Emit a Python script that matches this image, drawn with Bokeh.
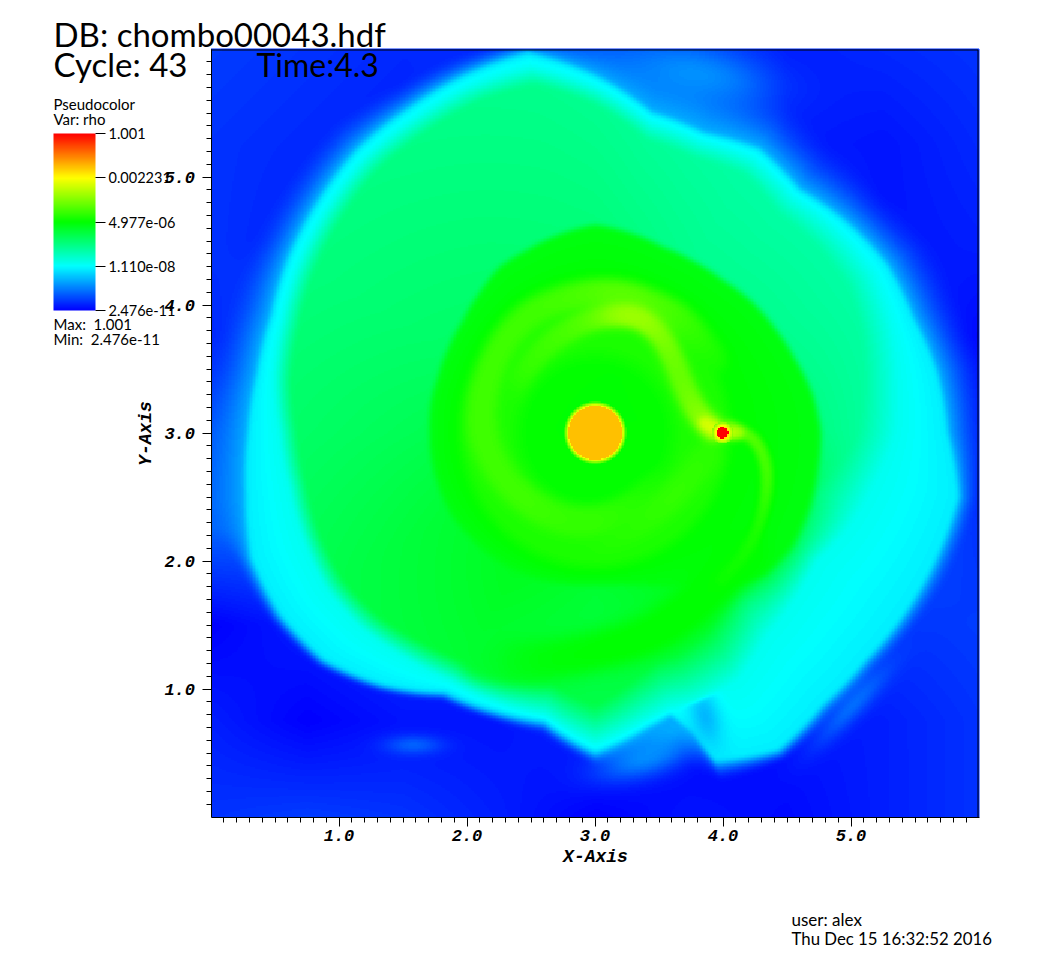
import numpy as np
from bokeh.plotting import figure
from bokeh.models import (LinearColorMapper, ColorBar, FixedTicker, Label, Range1d, LinearAxis)
from bokeh.embed import file_html
from bokeh.resources import INLINE

# ---- text and scale values
rho_min, rho_max = 2.476e-11, 1.001
cbar_labels = ["2.476e-11", "1.110e-08", "4.977e-06", "0.002231", "1.001"]
x_major = [1.0, 2.0, 3.0, 4.0, 5.0]
y_major = [1.0, 2.0, 3.0, 4.0, 5.0]

# ---- field; colour level 0..1 along the colour bar
ring_angles = [0,10,20,30,40,50,60,70,80,90,100,110,120,130,140,150,160,170,180,190,200,210,220,230,240,250,260,270,280,285,288,290,300,310,320,330,340,350]
r_green = [1.74,1.70,1.64,1.60,1.57,1.53,1.52,1.52,1.56,1.60,1.55,1.50,1.47,1.39,1.33,1.30,1.28,1.28,1.27,1.27,1.27,1.27,1.25,1.24,1.22,1.20,1.18,1.17,1.18,1.21,1.23,1.25,1.35,1.55,1.70,1.75,1.75,1.74]
r_mid = [2.35,2.40,2.46,2.50,2.46,2.40,2.47,2.42,2.46,2.70,2.90,2.88,2.83,2.80,2.73,2.67,2.60,2.55,2.47,2.43,2.43,2.43,2.38,2.30,2.24,2.24,2.24,2.43,2.28,2.23,2.24,2.25,2.23,2.08,2.03,2.00,2.12,2.22]
r_edge = [2.74,2.70,2.63,2.62,2.55,2.47,2.55,2.48,2.53,2.78,3.00,2.96,2.91,2.88,2.81,2.75,2.68,2.67,2.70,2.76,2.85,2.83,2.75,2.56,2.33,2.30,2.28,2.49,2.33,2.27,2.45,2.72,2.85,2.76,2.75,2.79,2.83,2.87]
r_halo = [3.05,3.10,3.05,3.05,2.95,2.92,3.05,3.10,3.10,3.10,3.15,3.15,3.15,3.20,3.15,3.10,3.05,3.05,3.15,3.20,3.00,2.95,2.85,2.65,2.42,2.40,2.40,2.62,2.65,2.70,2.85,2.92,2.97,2.92,2.90,2.95,3.00,3.05]
plate_angles = [0,30,60,90,120,150,180,210,240,270,300,330]
plate_level = [.35,.34,.34,.36,.37,.38,.40,.43,.45,.43,.45,.41]
soft_angles = [0,60,200,250,300,340]
soft_width = [.30,.14,.14,.20,.45,.40]

bg_level = [
 [.05,.06,.05,.03,.00,.02,.01,.03,.05],
 [.03,.00,.02,.02,.04,.00,.02,.03,.05],
 [.00,.03,.05,.05,.05,.05,.05,.05,.06],
 [.10,.10,.10,.10,.10,.10,.10,.10,.05],
 [.08,.10,.10,.10,.10,.10,.10,.10,.04],
 [.04,.10,.10,.10,.10,.10,.10,.05,.01],
 [.05,.03,.06,.10,.10,.10,.08,.02,.03],
 [.05,.04,.03,.08,.10,.10,.03,.02,.04],
 [.06,.05,.04,.04,.08,.07,.03,.04,.05],
]

arm_a_x = [3.93,3.80,3.695,3.617,3.512,3.356,3.173,2.965,2.782,2.626,2.443,2.313]
arm_a_y = [3.016,3.146,3.354,3.5625,3.771,3.901,3.927,3.888,3.797,3.693,3.484,3.25]
arm_a_t = [.66,.63,.60,.60,.62,.65,.65,.59,.57,.56,.55,.52]
ring_b_x = [3.93,3.721,3.512,3.2,2.861,2.495,2.261,2.13,2.104,2.144,2.287,2.521,2.756,2.991,3.252,3.512]
ring_b_y = [3.5625,3.849,3.979,4.096,4.083,3.953,3.693,3.354,3.094,2.885,2.625,2.417,2.3125,2.30,2.39,2.6]
ring_b_t = [.52,.55,.57,.59,.57,.56,.56,.56,.56,.56,.56,.56,.55,.55,.54,.52]
arc_c_x = [3.88,3.617,3.304,2.99,2.678]
arc_c_y = [2.833,2.495,2.26,2.143,2.208]
arc_c_t = [.54,.55,.54,.53,.51]
arm_2_x = [4.034,4.243,4.334,4.347,4.295,4.19,3.982]
arm_2_y = [3.055,2.964,2.781,2.573,2.3125,2.078,1.844]
arm_2_t = [.60,.58,.57,.56,.53,.52,.51]
arm_3_x = [4.19,3.982,3.721,3.46,3.043,2.495,2.1]
arm_3_y = [2.078,1.844,1.609,1.427,1.297,1.20,1.25]
arm_3_t = [.50,.50,.50,.50,.50,.49,.45]
wake_x = [3.85,3.98,4.12]
wake_y = [3.08,3.0,3.0]
wake_t = [.70,.72,.66]

blob_x = [1.58,3.38,5.02,3.65,3.79]
blob_y = [.56,.45,.88,.72,5.81]
blob_long = [.22,.38,.42,.35,.55]
blob_short = [.07,.14,.09,.16,.20]
blob_tilt = [0,15,47,25,-10]
blob_t = [.10,.13,.11,.17,.14]
dim_x, dim_y, dim_long, dim_short, dim_tilt, dim_t = 3.86, .78, .24, .12, 105, .18

star_radius, planet_radius = .205, .045
star_t, planet_t = .81, 1.0
planet_x, planet_y = 3.995, 3.0

# ---- build the field
N = 512
g = (np.arange(N) + .5) / N * 6
X, Y = np.meshgrid(g, g)
dx, dy = X - 3, Y - 3
r = np.hypot(dx, dy)
th = np.degrees(np.arctan2(dy, dx)) % 360

def around(ang, vals):
    return np.interp(th, ang + [ang[0] + 360], vals + [vals[0]])

Rg, Rm, Re, Rh = (around(ring_angles, v) for v in (r_green, r_mid, r_edge, r_halo))
plate = around(plate_angles, plate_level)
Sw = around(soft_angles, soft_width)

bg = np.array(bg_level)
fx, fy = X / .75, Y / .75
ix, iy = np.clip(fx.astype(int), 0, 7), np.clip(fy.astype(int), 0, 7)
ax, ay = fx - ix, fy - iy
bgf = (bg[iy, ix] * (1 - ax) * (1 - ay) + bg[iy, ix + 1] * ax * (1 - ay)
       + bg[iy + 1, ix] * (1 - ax) * ay + bg[iy + 1, ix + 1] * ax * ay)

def gauss(bx, by, bl, bs, bt):
    c, s = np.cos(np.radians(bt)), np.sin(np.radians(bt))
    u, v = (X - bx) * c + (Y - by) * s, -(X - bx) * s + (Y - by) * c
    return np.exp(-(u / bl) ** 2 - (v / bs) ** 2)

for bx, by, bl, bs, bt, ba in zip(blob_x, blob_y, blob_long, blob_short, blob_tilt, blob_t):
    bgf = np.maximum(bgf, bgf + (ba - bgf) * gauss(bx, by, bl, bs, bt))

def seg(a, b, ta, tb, rr):
    f = np.clip((rr - a) / np.maximum(b - a, 1e-3), 0, 1)
    return ta + (tb - ta) * f

fade = np.clip((r - (Re + .03)) / np.maximum(Rh - Re - .03, 1e-3), 0, 1)
t = np.where(r < Rh, bgf + (.17 - bgf) * np.maximum(0, 1 - fade) ** 2.0, bgf)
t = np.where(r < Re + .03, seg(Re, Re + .03, .235, .17, r), t)
t = np.where(r < Re, seg(Rm, Re, .265, .235, r), t)
dim = gauss(dim_x, dim_y, dim_long, dim_short, dim_tilt)
t = np.where((r > Rm) & (t > dim_t), t - (t - dim_t) * dim, t)
Rs = np.maximum(Rm - Sw, Rg + .05)
t = np.where(r < Rm, seg(Rs, Rm, plate, .265, r), t)
t = np.where(r < Rs, seg(Rg + .05, Rs, plate + .02, plate, r), t)
t = np.where(r < Rg + .05, seg(Rg, Rg + .05, .485, plate + .02, r), t)
inner = np.where(r < .52, .5, seg(.52, .68, .5, .525, r))
inner = np.where(r > 1.0, seg(1.0, 1.1, .525, .5, r), inner)
inner = np.where(r > 1.1, seg(1.1, Rg, .5, .485, r), inner)
t = np.where(r < Rg, inner, t)

def rounded(xs, ys, ts):
    a = np.column_stack([xs, ys, ts])
    for _ in range(2):
        a = np.vstack([a[0], np.column_stack([.75 * a[:-1] + .25 * a[1:], .25 * a[:-1] + .75 * a[1:]]).reshape(-1, 3), a[-1]])
    return a

def ridge(xs, ys, ts, width):
    global t
    a = rounded(xs, ys, ts)
    for i in range(len(a) - 1):
        x0, y0, t0 = a[i]
        x1, y1, t1 = a[i + 1]
        ex, ey = x1 - x0, y1 - y0
        f = np.clip(((X - x0) * ex + (Y - y0) * ey) / max(ex * ex + ey * ey, 1e-9), 0, 1)
        d = np.hypot(X - x0 - f * ex, Y - y0 - f * ey)
        target = t0 + (t1 - t0) * f
        w = np.exp(-(d / width) ** 2)
        t = np.where(target > t, t + (target - t) * w, t)

ridge(ring_b_x, ring_b_y, ring_b_t, .09)
ridge(arc_c_x, arc_c_y, arc_c_t, .09)
ridge(arm_3_x, arm_3_y, arm_3_t, .13)
ridge(arm_a_x, arm_a_y, arm_a_t, .07)
ridge(arm_2_x, arm_2_y, arm_2_t, .04)
ridge(wake_x, wake_y, wake_t, .04)

def soften(a):
    for _ in range(3):
        a = (a + np.roll(a, 1, 0) + np.roll(a, -1, 0)) / 3
        a = (a + np.roll(a, 1, 1) + np.roll(a, -1, 1)) / 3
    return a
keep = t.copy()
t = soften(t)
t[[0, 1, 2, -3, -2, -1], :] = keep[[0, 1, 2, -3, -2, -1], :]
t[:, [0, 1, 2, -3, -2, -1]] = keep[:, [0, 1, 2, -3, -2, -1]]

t = np.where(r < .245, seg(star_radius + .005, .245, .76, .52, r), t)
t = np.where(r < star_radius + .005, star_t, t)
rp = np.hypot(X - planet_x, Y - planet_y)
t = np.where(rp < .085, seg(planet_radius, .085, .78, .62, rp), t)
t = np.where(rp < planet_radius, planet_t, t)

log_lo, log_hi = np.log10(rho_min), np.log10(rho_max)
field = log_lo + t * (log_hi - log_lo)

# ---- colour table: blue, cyan, green, yellow, red
stops = np.array([[0, 0, 255], [0, 255, 255], [0, 255, 0], [255, 255, 0], [255, 0, 0]], float)
palette = []
for q in np.linspace(0, 4, 256):
    i = min(int(q), 3)
    c = stops[i] + (stops[i + 1] - stops[i]) * (q - i)
    palette.append("#%02x%02x%02x" % tuple(int(round(v)) for v in c))
mapper = LinearColorMapper(palette=palette, low=log_lo, high=log_hi)

# ---- figure: the frame fills the page, so that texts beside the plot are not cut
W, H = 1050, 958
OX, OY, S = 210.5, 816.5, 128.0
def xd(px): return (px - OX) / S
def yd(py): return (OY - py) / S

p = figure(width=W, height=H, output_backend="svg", toolbar_location=None, tools="",
           x_range=Range1d(xd(0), xd(W)), y_range=Range1d(yd(H), yd(0)),
           x_axis_location=None, y_axis_location=None,
           min_border_left=0, min_border_right=0, min_border_top=0, min_border_bottom=0)
p.grid.visible = False
p.outline_line_color = None
p.image(image=[field], x=0, y=0, dw=6, dh=6, color_mapper=mapper)
p.line(x=[xd(OX), xd(978.5), xd(978.5)], y=[yd(48.5), yd(48.5), yd(OY)], line_color="#0033ff", line_width=1)
p.line(x=[xd(OX), xd(977.5), xd(977.5)], y=[yd(49.5), yd(49.5), yd(OY)], line_color="#000000", line_width=1)

minor = [round(i * .1, 1) for i in range(1, 60) if i % 10 != 0]
xa = LinearAxis(fixed_location=0, bounds=(0, 6), axis_label="X-Axis")
ya = LinearAxis(fixed_location=0, bounds=(0, 6), axis_label="Y-Axis")
p.add_layout(xa, "below")
p.add_layout(ya, "left")
for a_, maj in ((xa, x_major), (ya, y_major)):
    a_.ticker = FixedTicker(ticks=maj, minor_ticks=minor)
    a_.major_label_overrides = {m: f"{m:.1f}" for m in maj}
    a_.major_tick_in = 0
    a_.major_tick_out = 9
    a_.minor_tick_in = 0
    a_.minor_tick_out = 5
    a_.major_label_text_font = "Liberation Mono"
    a_.major_label_text_font_style = "bold italic"
    a_.major_label_text_font_size = "17px"
    a_.major_label_text_color = "black"
    a_.axis_label_text_font = "Liberation Mono"
    a_.axis_label_text_font_style = "bold italic"
    a_.axis_label_text_font_size = "18px"
    a_.axis_label_text_color = "black"
    a_.axis_line_color = "black"
    a_.major_tick_line_color = "black"
    a_.minor_tick_line_color = "black"
xa.major_label_standoff = 4
ya.major_label_standoff = 7
xa.axis_label_standoff = 2
ya.axis_label_standoff = 6

def lab(text, px, py, size):
    p.add_layout(Label(x=xd(px), y=yd(py - (3.4 + .24 * size)), text=text,
                       text_font="Lato", text_font_size=f"{size}px", text_color="black",
                       text_baseline="alphabetic"))

lab("DB: chombo00043.hdf", 53, 45, 33)
lab("Cycle: 43", 53, 75, 33)
lab("Time:4.3", 256, 75, 32)
lab("Pseudocolor", 53, 110, 15)
lab("Var: rho", 53, 125, 15)
lab("Max:\u00a0\u00a01.001", 53, 330, 15)
lab("Min:\u00a0\u00a02.476e-11", 53, 345, 15)
lab("user: alex", 791, 926, 17)
lab("Thu Dec 15 16:32:52 2016", 791, 945, 16.8)

ticks = list(np.linspace(log_lo, log_hi, 5))
cb = ColorBar(color_mapper=mapper, width=42, height=177, padding=0,
              location=(53, H - 310),
              ticker=FixedTicker(ticks=ticks),
              major_label_overrides=dict(zip(ticks, cbar_labels)),
              major_tick_in=0, major_tick_out=10, major_tick_line_color="black",
              minor_tick_line_color=None, bar_line_color=None,
              background_fill_alpha=0, border_line_color=None,
              label_standoff=3, major_label_text_font="Lato",
              major_label_text_font_size="14.5px", major_label_text_color="black")
p.add_layout(cb, "center")

open("out.html", "w").write(file_html(p, INLINE))
